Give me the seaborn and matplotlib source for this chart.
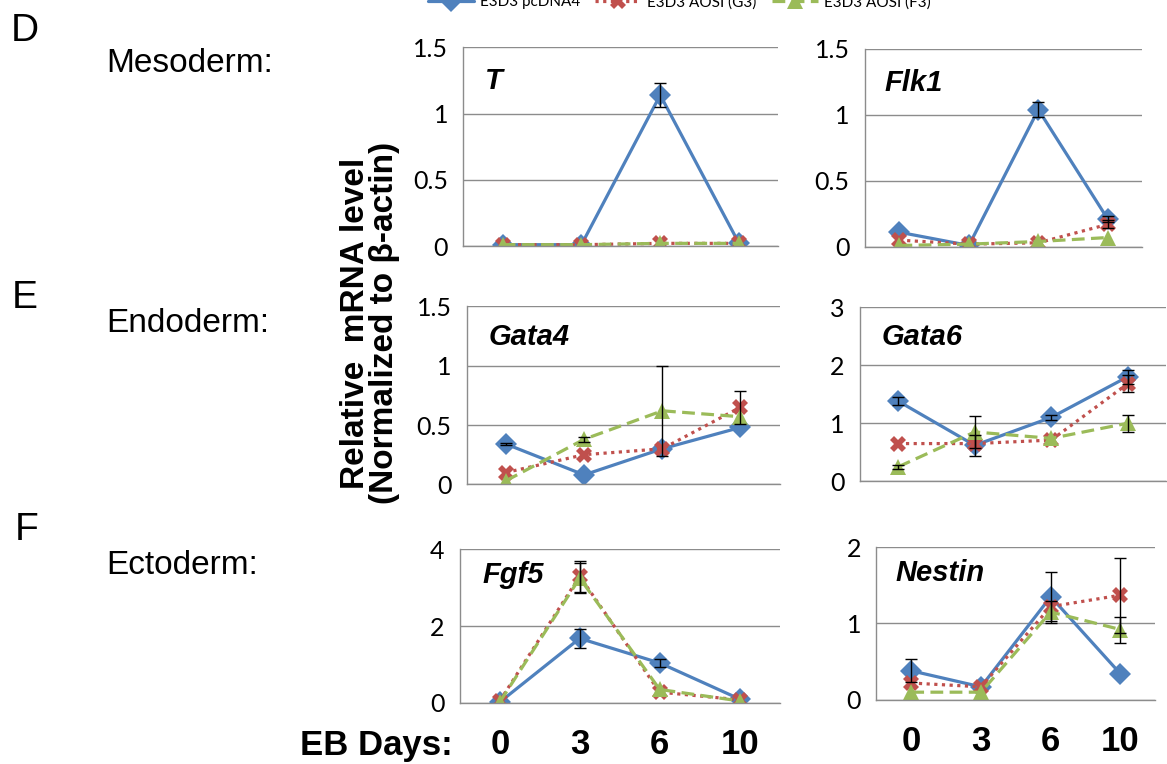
import matplotlib
matplotlib.use("Agg")
import numpy as np
import pandas as pd
import seaborn as sns
import matplotlib.pyplot as plt
from matplotlib.ticker import FuncFormatter, MultipleLocator

# EB days (categorical x) and the three series
days = ["0", "3", "6", "10"]
series = ["E3D3 pcDNA4", "E3D3 AOSI (G3)", "E3D3 AOSI (F3)"]

# values (pcDNA4, G3, F3) and error bars
t_pc = [0.01, 0.01, 1.14, 0.02]
t_g3 = [0.01, 0.01, 0.02, 0.02]
t_f3 = [0.01, 0.01, 0.02, 0.02]
t_err_pc = [0, 0, 0.09, 0]
t_err_g3 = [0, 0, 0, 0]
t_err_f3 = [0, 0, 0, 0]

flk1_pc = [0.11, 0.01, 1.04, 0.21]
flk1_g3 = [0.05, 0.02, 0.03, 0.17]
flk1_f3 = [0.01, 0.02, 0.04, 0.07]
flk1_err_pc = [0, 0, 0.06, 0.02]
flk1_err_g3 = [0, 0, 0, 0.03]
flk1_err_f3 = [0, 0, 0, 0]

gata4_pc = [0.34, 0.08, 0.30, 0.48]
gata4_g3 = [0.10, 0.25, 0.30, 0.65]
gata4_f3 = [0.03, 0.38, 0.62, 0.57]
gata4_err_pc = [0.01, 0, 0, 0]
gata4_err_g3 = [0, 0, 0, 0.14]
gata4_err_f3 = [0, 0.02, 0.38, 0]

gata6_pc = [1.38, 0.62, 1.10, 1.80]
gata6_g3 = [0.65, 0.65, 0.71, 1.68]
gata6_f3 = [0.25, 0.85, 0.74, 1.00]
gata6_err_pc = [0.07, 0.18, 0.04, 0.12]
gata6_err_g3 = [0, 0, 0, 0.15]
gata6_err_f3 = [0.03, 0.27, 0, 0.15]

fgf5_pc = [0.02, 1.68, 1.04, 0.10]
fgf5_g3 = [0.05, 3.30, 0.28, 0.08]
fgf5_f3 = [0.02, 3.25, 0.35, 0.05]
fgf5_err_pc = [0, 0.24, 0.10, 0]
fgf5_err_g3 = [0, 0.40, 0, 0]
fgf5_err_f3 = [0, 0.40, 0, 0]

nestin_pc = [0.38, 0.17, 1.35, 0.34]
nestin_g3 = [0.22, 0.17, 1.22, 1.37]
nestin_f3 = [0.10, 0.10, 1.15, 0.92]
nestin_err_pc = [0.15, 0, 0.32, 0]
nestin_err_g3 = [0, 0, 0, 0.49]
nestin_err_f3 = [0, 0, 0.15, 0.17]

genes = ["T", "Flk1", "Gata4", "Gata6", "Fgf5", "Nestin"]
gene_vals = [(t_pc, t_g3, t_f3), (flk1_pc, flk1_g3, flk1_f3),
             (gata4_pc, gata4_g3, gata4_f3), (gata6_pc, gata6_g3, gata6_f3),
             (fgf5_pc, fgf5_g3, fgf5_f3), (nestin_pc, nestin_g3, nestin_f3)]
gene_errs = [(t_err_pc, t_err_g3, t_err_f3), (flk1_err_pc, flk1_err_g3, flk1_err_f3),
             (gata4_err_pc, gata4_err_g3, gata4_err_f3), (gata6_err_pc, gata6_err_g3, gata6_err_f3),
             (fgf5_err_pc, fgf5_err_g3, fgf5_err_f3), (nestin_err_pc, nestin_err_g3, nestin_err_f3)]
ymax = [1.5, 1.5, 1.5, 3, 4, 2]
ystep = [0.5, 0.5, 0.5, 1, 2, 1]

sns.set_style("white")
plt.rcParams['font.family'] = ['Liberation Sans', 'DejaVu Sans']
plt.rcParams['text.color'] = 'black'
plt.rcParams['ytick.labelcolor'] = 'black'

colors = {series[0]: "#4F81BD", series[1]: "#C0504D", series[2]: "#9BBB59"}
markers = {series[0]: "D", series[1]: "X", series[2]: "^"}
dashes = {series[0]: "", series[1]: (1, 1.4), series[2]: (4, 2)}
GRID = "#8c8c8c"

# axes boxes in figure fraction [left, bottom, width, height]
boxes = [[0.397, 0.678, 0.270, 0.260], [0.741, 0.677, 0.238, 0.259],
         [0.400, 0.366, 0.268, 0.233], [0.737, 0.370, 0.262, 0.228],
         [0.394, 0.080, 0.274, 0.201], [0.751, 0.084, 0.239, 0.200]]

fig = plt.figure(figsize=(11.67, 7.64), dpi=100)
axes = []
for i, gene in enumerate(genes):
    ax = fig.add_axes(boxes[i])
    axes.append(ax)
    rows = []
    for s, vals in zip(series, gene_vals[i]):
        for k, v in enumerate(vals):
            rows.append({"pos": k, "value": v, "series": s})
    df = pd.DataFrame(rows)
    sns.lineplot(data=df, x="pos", y="value", hue="series", style="series",
                 palette=colors, markers=markers, dashes=dashes, hue_order=series,
                 style_order=series, linewidth=2.3, markersize=11,
                 markeredgewidth=0, legend=False, ax=ax)
    for s, vals, errs in zip(series, gene_vals[i], gene_errs[i]):
        idx = [k for k, e in enumerate(errs) if e > 0]
        if idx:
            ax.errorbar(idx, [vals[k] for k in idx], yerr=[errs[k] for k in idx],
                        fmt="none", ecolor="black", elinewidth=1, capsize=4.5,
                        capthick=1, zorder=5)
    ax.set_xlim(-0.5, 3.5)
    ax.set_ylim(0, ymax[i])
    ax.yaxis.set_major_locator(MultipleLocator(ystep[i]))
    ax.yaxis.set_major_formatter(FuncFormatter(lambda v, p: "%g" % v))
    ax.set_xticks([])
    ax.set_xticks(np.arange(-0.5, 4, 1), minor=True)
    ax.tick_params(axis="x", which="minor", direction="out", length=7, color=GRID, width=1)
    ax.tick_params(axis="y", direction="out", length=5, color=GRID, width=1,
                   labelsize=18, pad=6)
    for lab in ax.get_yticklabels():
        lab.set_fontfamily("Lato")
    ax.grid(axis="y", color=GRID, linewidth=1)
    ax.set_axisbelow(True)
    for side in ["top", "right"]:
        ax.spines[side].set_visible(False)
    for side in ["left", "bottom"]:
        ax.spines[side].set_color(GRID)
        ax.spines[side].set_linewidth(1)
    ax.set_xlabel("")
    ax.set_ylabel("")
    ax.text(0.07, 0.83, gene, transform=ax.transAxes, fontsize=21,
            fontweight="bold", fontstyle="italic", va="center", ha="left")

# x tick labels only below the bottom row
for ax in axes[4:]:
    for k, d in enumerate(days):
        ax.annotate(d, xy=(k, 0), xycoords=("data", "axes fraction"),
                    xytext=(0, -30), textcoords="offset points",
                    ha="center", va="center", fontsize=25, fontweight="bold")

# panel letters and germ-layer labels
fig.text(25 / 1167, 1 - 31 / 764, "D", fontsize=28, ha="center", va="center")
fig.text(25 / 1167, 1 - 298 / 764, "E", fontsize=28, ha="center", va="center")
fig.text(27 / 1167, 1 - 530 / 764, "F", fontsize=28, ha="center", va="center")
fig.text(106 / 1167, 1 - 63 / 764, "Mesoderm:", fontsize=24, ha="left", va="center")
fig.text(106 / 1167, 1 - 323 / 764, "Endoderm:", fontsize=24, ha="left", va="center")
fig.text(106 / 1167, 1 - 566 / 764, "Ectoderm:", fontsize=24, ha="left", va="center")
fig.text(370 / 1167, 1 - 323 / 764, "Relative  mRNA level\n(Normalized to \u03b2-actin)",
         rotation=90, fontsize=24, fontweight="bold", ha="center", va="center",
         linespacing=0.95)
fig.text(300 / 1167, 1 - 745 / 764, "EB Days:", fontsize=25, fontweight="bold",
         ha="left", va="center")

# legend (cut off by the top edge, as in the source)
handles = []
for s in series:
    h = plt.Line2D([], [], color=colors[s], marker=markers[s], linewidth=2.3,
                   markersize=11, markeredgewidth=0)
    if dashes[s] != "":
        h.set_dashes(dashes[s])
    handles.append(h)
leg = fig.legend(handles, series, loc="center", bbox_to_anchor=(0.582, 0.997),
                 ncol=3, frameon=False, fontsize=11, handlelength=3.0,
                 handletextpad=0.4, columnspacing=1.0)
for t in leg.get_texts():
    t.set_fontfamily("Lato")

fig.savefig("out.png", dpi=100)
